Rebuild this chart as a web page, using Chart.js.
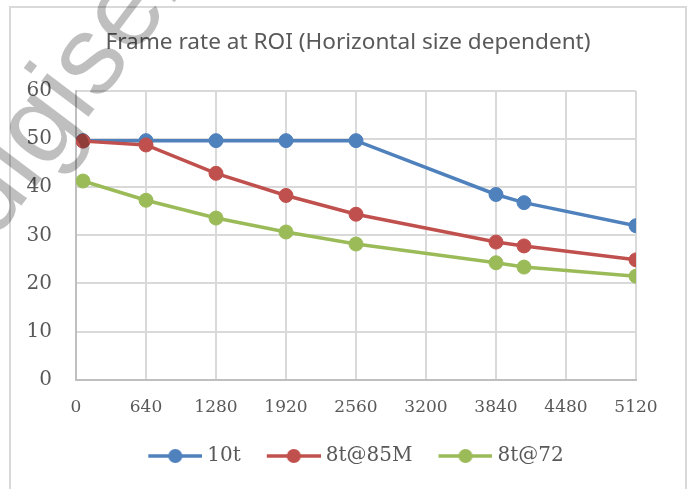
<!DOCTYPE html>
<html>
<head>
<meta charset="utf-8">
<script src="https://cdn.jsdelivr.net/npm/chart.js@4.4.1/dist/chart.umd.min.js"></script>
<style>
  html, body { margin: 0; padding: 0; background: #fff; }
  #wrap { width: 688px; height: 489px; }
</style>
</head>
<body>
<div id="wrap"><canvas id="grafica" width="688" height="489"></canvas></div>
<script>
// datos
var anchos = [64, 640, 1280, 1920, 2560, 3840, 4096, 5120];
var serie10t = [49.7, 49.7, 49.7, 49.7, 49.7, 38.5, 36.8, 32.0];
var serie85M = [49.6, 48.8, 42.9, 38.3, 34.4, 28.6, 27.8, 24.9];
var serie72 = [41.3, 37.3, 33.6, 30.7, 28.2, 24.3, 23.4, 21.5];
var nombres = ["10t", "8t@85M", "8t@72"];
var colores = ["#4f81bd", "#c0504d", "#9bbb59"];
var ticksX = [0, 640, 1280, 1920, 2560, 3200, 3840, 4480, 5120];
var ticksY = [0, 10, 20, 30, 40, 50, 60];
var titulo = "Frame rate at ROI (Horizontal size dependent)";

function puntos(valores) {
    var lista = [];
    for (var i = 0; i < anchos.length; i++) {
        lista.push({x: anchos[i], y: valores[i]});
    }
    return lista;
}

// icono de la leyenda: linea con punto en medio (margen transparente a la izquierda)
function iconoLeyenda(color) {
    var c = document.createElement("canvas");
    c.width = 75;
    c.height = 16;
    var g = c.getContext("2d");
    g.strokeStyle = color;
    g.lineWidth = 3.5;
    g.beginPath();
    g.moveTo(21, 8);
    g.lineTo(75, 8);
    g.stroke();
    g.fillStyle = color;
    g.beginPath();
    g.arc(48, 8, 7, 0, Math.PI * 2);
    g.fill();
    return c;
}

function serie(i, valores, orden) {
    return {
        label: nombres[i],
        data: puntos(valores),
        borderColor: colores[i],
        backgroundColor: colores[i],
        pointBackgroundColor: colores[i],
        pointBorderColor: colores[i],
        borderWidth: 3.5,
        pointRadius: 7,
        pointBorderWidth: 1,
        pointHoverRadius: 7,
        tension: 0,
        order: orden
    };
}

// marco gris alrededor del grafico
var marco = {
    id: "marco",
    beforeDraw: function (chart) {
        var ctx = chart.ctx;
        ctx.save();
        ctx.strokeStyle = "#d9d9d9";
        ctx.lineWidth = 2;
        ctx.strokeRect(10, 7, 676, 520);
        ctx.restore();
    }
};

// marca de agua
var marcaAgua = {
    id: "marcaAgua",
    afterDraw: function (chart) {
        var ctx = chart.ctx;
        ctx.save();
        ctx.translate(-6, 242);
        ctx.rotate(-53 * Math.PI / 180);
        ctx.font = '112px "Liberation Sans"';
        ctx.fillStyle = "rgba(0,0,0,0.25)";
        ctx.textBaseline = "alphabetic";
        ctx.fillText("digiselect", 0, 0);
        ctx.restore();
    }
};

var fuenteSerif = '"DejaVu Serif", serif';

new Chart("grafica", {
    type: "line",
    data: {
        datasets: [serie(0, serie10t, 2), serie(1, serie85M, 1), serie(2, serie72, 0)]
    },
    options: {
        responsive: false,
        animation: false,
        layout: {padding: {left: 8, right: 0, top: 0, bottom: 13}},
        plugins: {
            title: {
                display: true,
                text: titulo,
                color: "#595959",
                font: {family: '"Noto Sans"', size: 22.6, weight: "normal"},
                padding: {top: 29, bottom: 35}
            },
            legend: {
                position: "bottom",
                reverse: true,
                labels: {
                    usePointStyle: true,
                    pointStyleWidth: 65,
                    padding: 10,
                    color: "#595959",
                    font: {family: fuenteSerif, size: 20},
                    generateLabels: function (chart) {
                        var items = Chart.defaults.plugins.legend.labels.generateLabels(chart);
                        items.forEach(function (it) {
                            it.pointStyle = iconoLeyenda(colores[it.datasetIndex]);
                        });
                        return items;
                    }
                }
            },
            tooltip: {enabled: false}
        },
        scales: {
            x: {
                type: "linear",
                min: 0,
                max: 5120,
                afterBuildTicks: function (s) {
                    s.ticks = ticksX.map(function (v) { return {value: v}; });
                },
                grid: {color: "#d9d9d9", lineWidth: 2, drawTicks: false},
                border: {color: "#bfbfbf", width: 2},
                ticks: {
                    color: "#595959",
                    padding: 18,
                    maxRotation: 0,
                    autoSkip: false,
                    font: {family: fuenteSerif, size: 17},
                    callback: function (v) { return String(v); }
                }
            },
            y: {
                min: 0,
                max: 60,
                afterBuildTicks: function (s) {
                    s.ticks = ticksY.map(function (v) { return {value: v}; });
                },
                afterFit: function (s) { s.width = 68; },
                grid: {color: "#d9d9d9", lineWidth: 2, drawTicks: false},
                border: {color: "#bfbfbf", width: 2},
                ticks: {
                    color: "#595959",
                    padding: 24,
                    font: {family: fuenteSerif, size: 20}
                }
            },
            yDer: {
                position: "right",
                min: 0,
                max: 60,
                afterFit: function (s) { s.width = 52; },
                grid: {display: false, drawTicks: false},
                border: {display: false},
                ticks: {display: false}
            }
        }
    },
    plugins: [marco, marcaAgua]
});
</script>
</body>
</html>
